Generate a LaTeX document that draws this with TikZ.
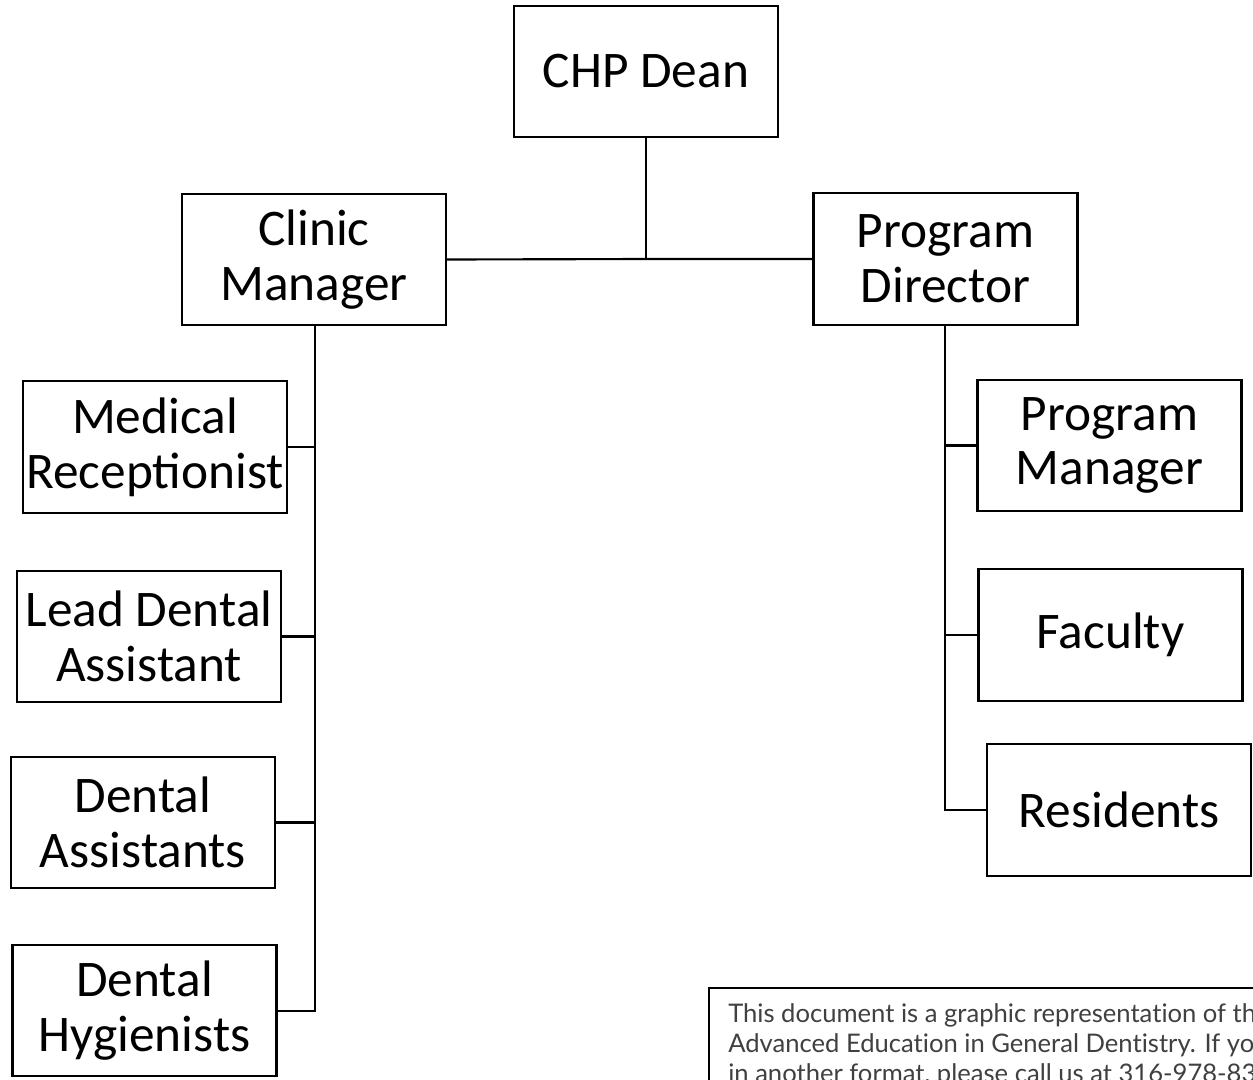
\documentclass[tikz,border=0pt]{standalone}
\usepackage{fontspec}
\setmainfont{Carlito}
\newfontfamily\notefont{Lato}[Ligatures={NoCommon}]
\definecolor{notegray}{HTML}{404040}
\begin{document}
\begin{tikzpicture}[x=0.75pt,y=-0.75pt,
  orgbox/.style={draw=black, line width=1.6pt, fill=white, minimum width=198pt, minimum height=98.5pt, text width=196pt, inner sep=0pt, align=flush center, font=\fontsize{38.5}{41}\selectfont},
  link/.style={draw=black, line width=1.6pt},
  noteline/.style={anchor=base west, inner sep=0pt, text=notegray, font=\notefont\fontsize{19.2}{22}\selectfont}]
\useasboundingbox (0,0) rectangle (1253,1079);
\clip (0,0) rectangle (1253,1079);
\node[orgbox] (dean) at (646,71.5) {CHP Dean};
\node[orgbox] (clinic) at (314,259.5) {Clinic\\Manager};
\node[orgbox] (prog) at (945.5,259) {Program\\Director};
\node[orgbox] (med) at (155,447) {Medical\\Receptionist};
\node[orgbox] (lead) at (149,636.5) {Lead Dental\\Assistant};
\node[orgbox] (da) at (143,822.5) {Dental\\Assistants};
\node[orgbox] (hyg) at (144.5,1010.5) {Dental\\Hygienists};
\node[orgbox] (pm) at (1109.5,445.5) {Program\\Manager};
\node[orgbox] (fac) at (1110.5,635) {Faculty};
\node[orgbox] (res) at (1119,810) {Residents};
\coordinate (mid) at (646,259);
\coordinate (cbot) at (315,1011);
\coordinate (pbot) at (945,810);
\draw[link] (dean.south) -- (mid);
\draw[link] (clinic.east) -- (mid) -- (prog.west);
\draw[link] (clinic.south -| cbot) -- (cbot) -- (hyg.east |- cbot);
\draw[link] (med.east) -- (med.east -| cbot);
\draw[link] (lead.east) -- (lead.east -| cbot);
\draw[link] (da.east) -- (da.east -| cbot);
\draw[link] (prog.south -| pbot) -- (pbot) -- (res.west |- pbot);
\draw[link] (pm.west) -- (pm.west -| pbot);
\draw[link] (fac.west) -- (fac.west -| pbot);
\node[draw=black, line width=1.6pt, fill=white, anchor=north west, minimum width=600pt, minimum height=120pt, inner sep=0pt] (note) at (708,987) {};
\node[noteline] (note1) at (728,1022) {This document is a graphic representation of the};
\node[noteline] (note2) at (728,1052) {Advanced Education in General Dentistry. If you};
\node[noteline] (note3) at (728,1082) {in another format, please call us at 316-978-8300};
\end{tikzpicture}
\end{document}
